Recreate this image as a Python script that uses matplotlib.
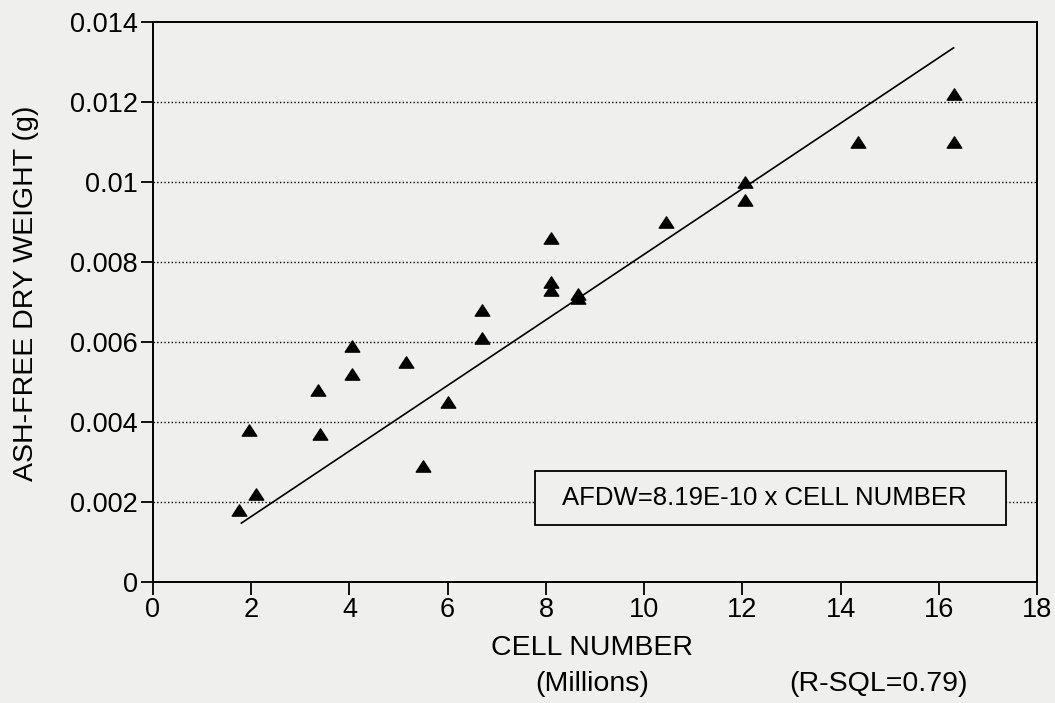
import numpy as np
import matplotlib
matplotlib.use("Agg")
import matplotlib.pyplot as plt
from matplotlib.path import Path
from matplotlib.patches import Rectangle

# cell number (millions) vs ash-free dry weight (g)
cells = [1.75, 1.95, 2.1, 3.35, 3.4, 4.05, 4.05, 5.15, 5.5, 6.0, 6.7, 6.7,
         8.1, 8.1, 8.1, 8.65, 8.65, 10.45, 12.05, 12.05, 14.35, 16.3, 16.3]
afdw = [0.0018, 0.0038, 0.0022, 0.0048, 0.0037, 0.0059, 0.0052, 0.0055, 0.0029,
        0.0045, 0.0068, 0.0061, 0.0086, 0.0075, 0.0073, 0.0072, 0.0071,
        0.0090, 0.0100, 0.00955, 0.0110, 0.0122, 0.0110]

slope = 8.19e-4          # g per million cells
fit_range = [1.8, 16.3]

xticks = np.arange(0, 19, 2)
yticks = [0, 0.002, 0.004, 0.006, 0.008, 0.01, 0.012, 0.014]
ytick_labels = ["0", "0.002", "0.004", "0.006", "0.008", "0.01", "0.012", "0.014"]

paper = "#efefed"
plt.rcParams["font.family"] = ["Liberation Sans", "DejaVu Sans"]

fig = plt.figure(figsize=(10.55, 7.03), dpi=100, facecolor=paper)
ax = fig.add_axes([0.145, 0.172, 0.838, 0.797], facecolor=paper)

# flattened filled triangle
tri = Path([(-1.3, -1.0), (1.3, -1.0), (0.0, 1.0), (-1.3, -1.0)],
           [Path.MOVETO, Path.LINETO, Path.LINETO, Path.CLOSEPOLY])

for y in yticks[1:-1]:
    ax.axhline(y, color="black", linestyle=(0, (1, 1.6)), linewidth=1.0, zorder=1)

fx = np.array(fit_range)
ax.plot(fx, slope * fx, color="black", linewidth=1.2, zorder=2)
ax.plot(cells, afdw, linestyle="none", marker=tri, markersize=10.5,
        color="black", zorder=3)

# equation box
ax.add_patch(Rectangle((7.78, 0.001425), 9.59, 0.00135, facecolor=paper,
                       edgecolor="black", linewidth=1.3, zorder=4))
ax.text(12.44, 0.00211, "AFDW=8.19E-10 x CELL NUMBER", ha="center", va="center",
        fontsize=18.5, zorder=5)

ax.set_xlim(0, 18)
ax.set_ylim(0, 0.014)
ax.set_xticks(xticks)
ax.set_yticks(yticks)
ax.set_yticklabels(ytick_labels)
ax.tick_params(direction="out", length=9, width=1.3, labelsize=19.5, pad=2)

for s in ax.spines.values():
    s.set_linewidth(1.4)

fig.text(0.025, 0.583, "ASH-FREE DRY WEIGHT (g)", rotation=90, ha="center",
         va="center", fontsize=20.5)
fig.text(0.561, 0.078, "CELL NUMBER", ha="center", va="center", fontsize=20.5)
fig.text(0.561, 0.027, "(Millions)", ha="center", va="center", fontsize=20.5)
fig.text(0.833, 0.027, "(R-SQL=0.79)", ha="center", va="center", fontsize=20.5)

fig.savefig("out.png", dpi=100, facecolor=paper)
